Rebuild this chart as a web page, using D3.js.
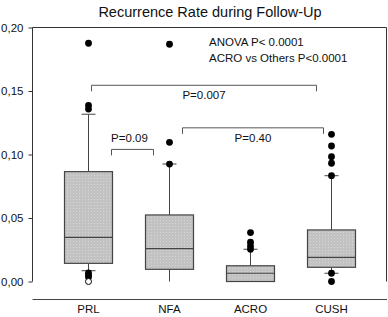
<!DOCTYPE html>
<html>
<head>
<meta charset="utf-8">
<script src="https://cdn.jsdelivr.net/npm/d3@7"></script>
<style>
  body { margin: 0; background: #fff; }
  text { font-family: "Liberation Sans", Arial, sans-serif; fill: #111; }
</style>
</head>
<body>
<div id="chart"></div>
<script>
// Recurrence rate box plots, SigmaPlot style

const groups = ['PRL', 'NFA', 'ACRO', 'CUSH'];
// [lowWhisker, q1, median, q3, highWhisker]
const boxStats = [
    [0.0085, 0.0143, 0.0348, 0.0865, 0.1317],
    [0.0, 0.0096, 0.0259, 0.0524, 0.0925],
    [0.0, 0.0, 0.0065, 0.0124, 0.0254],
    [0.0065, 0.0112, 0.019, 0.0406, 0.0833]
];
const lowCaps = [true, false, false, true];
const outliers = [
    [0.1876, 0.1386, 0.1358, 0.0067, 0.0051, 0.0035],
    [0.1868, 0.1096, 0.0925],
    [0.0385, 0.031, 0.028, 0.0254],
    [0.1159, 0.1067, 0.0983, 0.0931, 0.0833, 0.0065, 0.0]
];
const openPoints = [[0.0], [], [], []];

const yTicks = [0, 0.05, 0.10, 0.15, 0.20];
const yTickLabels = ['0,00', '0,05', '0,10', '0,15', '0,20'];

// comparison brackets: from group, to group, height, label
const brackets = [
    { from: 'PRL', to: 'CUSH', y: 0.1545, label: 'P=0.007' },
    { from: 'PRL', to: 'NFA', y: 0.104, label: 'P=0.09' },
    { from: 'NFA', to: 'CUSH', y: 0.121, label: 'P=0.40' }
];
const statNotes = ['ANOVA P< 0.0001', 'ACRO vs Others P<0.0001'];

const W = 388, H = 317;
const frame = { left: 32.5, right: 386.5, top: 27.5, bottom: 281.5 };

const svg = d3.select('#chart').append('svg')
    .attr('width', W)
    .attr('height', H);

// stippled grey fill for boxes
const pat = svg.append('defs').append('pattern')
    .attr('id', 'stipple')
    .attr('width', 3).attr('height', 3)
    .attr('patternUnits', 'userSpaceOnUse');
pat.append('rect').attr('width', 3).attr('height', 3).attr('fill', '#c2c2c2');
pat.append('rect').attr('x', 1).attr('y', 1).attr('width', 1).attr('height', 1).attr('fill', '#d6d6d6');

const x = d3.scaleBand()
    .domain(groups)
    .range([48, 372]);
const cx = g => x(g) + x.bandwidth() / 2;
const boxW = 48;
const capW = 14;

const y = d3.scaleLinear()
    .domain([0, 0.2])
    .range([frame.bottom, frame.top]);

// Title
svg.append('text')
    .attr('x', 210)
    .attr('y', 17)
    .attr('text-anchor', 'middle')
    .style('font-size', '14.5px')
    .text('Recurrence Rate during Follow-Up');

// Frame (top, left, right)
svg.append('path')
    .attr('d', `M${frame.left},${frame.bottom}V${frame.top}H${frame.right}V${frame.bottom}`)
    .attr('fill', 'none')
    .attr('stroke', '#333')
    .attr('stroke-width', 1);

// Detached bottom axis line
svg.append('line')
    .attr('x1', frame.left).attr('x2', 387)
    .attr('y1', 299.5).attr('y2', 299.5)
    .attr('stroke', '#444');

// Y axis
const yAxis = svg.append('g')
    .attr('transform', `translate(${frame.left},0)`)
    .call(d3.axisLeft(y).tickValues(yTicks).tickSize(4).tickPadding(5)
        .tickFormat((d, i) => yTickLabels[i]));
yAxis.select('.domain').remove();
yAxis.selectAll('.tick line').attr('stroke', '#333');
yAxis.selectAll('.tick text')
    .style('font-size', '11.5px')
    .style('font-family', '"Liberation Sans", Arial, sans-serif')
    .attr('fill', '#111');

// X labels
svg.selectAll('.xlab')
    .data(groups)
    .enter().append('text')
    .attr('class', 'xlab')
    .attr('x', d => cx(d))
    .attr('y', 312.5)
    .attr('text-anchor', 'middle')
    .style('font-size', '11.5px')
    .text(d => d);

// Boxes
const boxes = svg.selectAll('.box')
    .data(groups.map((g, i) => ({ g, s: boxStats[i], lowCap: lowCaps[i] })))
    .enter().append('g')
    .attr('class', 'box');

// whiskers
boxes.append('line')
    .attr('x1', d => cx(d.g)).attr('x2', d => cx(d.g))
    .attr('y1', d => y(d.s[3])).attr('y2', d => y(d.s[4]))
    .attr('stroke', '#444');
boxes.append('line')
    .attr('x1', d => cx(d.g)).attr('x2', d => cx(d.g))
    .attr('y1', d => y(d.s[1])).attr('y2', d => y(d.s[0]))
    .attr('stroke', '#444');
boxes.append('line')
    .attr('x1', d => cx(d.g) - capW / 2).attr('x2', d => cx(d.g) + capW / 2)
    .attr('y1', d => y(d.s[4])).attr('y2', d => y(d.s[4]))
    .attr('stroke', '#444');
boxes.filter(d => d.lowCap).append('line')
    .attr('x1', d => cx(d.g) - capW / 2).attr('x2', d => cx(d.g) + capW / 2)
    .attr('y1', d => y(d.s[0])).attr('y2', d => y(d.s[0]))
    .attr('stroke', '#444');

boxes.append('rect')
    .attr('x', d => cx(d.g) - boxW / 2)
    .attr('width', boxW)
    .attr('y', d => y(d.s[3]))
    .attr('height', d => y(d.s[1]) - y(d.s[3]))
    .attr('fill', 'url(#stipple)')
    .attr('stroke', '#444')
    .attr('stroke-width', 1.2);
boxes.append('line')
    .attr('x1', d => cx(d.g) - boxW / 2).attr('x2', d => cx(d.g) + boxW / 2)
    .attr('y1', d => y(d.s[2])).attr('y2', d => y(d.s[2]))
    .attr('stroke', '#444')
    .attr('stroke-width', 1.2);

// Outliers
const outPts = [];
groups.forEach((g, i) => outliers[i].forEach(v => outPts.push({ g, v })));
svg.selectAll('.out')
    .data(outPts)
    .enter().append('circle')
    .attr('class', 'out')
    .attr('cx', d => cx(d.g))
    .attr('cy', d => y(d.v))
    .attr('r', 3.4)
    .attr('fill', '#000');

const openPts = [];
groups.forEach((g, i) => openPoints[i].forEach(v => openPts.push({ g, v })));
svg.selectAll('.open')
    .data(openPts)
    .enter().append('circle')
    .attr('class', 'open')
    .attr('cx', d => cx(d.g))
    .attr('cy', d => y(d.v))
    .attr('r', 3)
    .attr('fill', '#fff')
    .attr('stroke', '#000')
    .attr('stroke-width', 1);

// Brackets
const bracketEnds = { 'PRL-CUSH': [3, -15], 'PRL-NFA': [23, -16], 'NFA-CUSH': [13, -8] };
brackets.forEach(b => {
    const off = bracketEnds[`${b.from}-${b.to}`];
    const x1 = cx(b.from) + off[0];
    const x2 = cx(b.to) + off[1];
    const yy = y(b.y);
    svg.append('path')
        .attr('d', `M${x1},${yy + 6}V${yy}H${x2}V${yy + 6}`)
        .attr('fill', 'none')
        .attr('stroke', '#555')
        .attr('stroke-width', 1);
    svg.append('text')
        .attr('x', (x1 + x2) / 2 + (b.from === 'PRL' && b.to === 'NFA' ? -3 : 0))
        .attr('y', yy + (b.to === 'NFA' ? -7 : 14))
        .attr('text-anchor', 'middle')
        .style('font-size', '11.5px')
        .text(b.label);
});

// Stats notes
svg.selectAll('.note')
    .data(statNotes)
    .enter().append('text')
    .attr('class', 'note')
    .attr('x', 209)
    .attr('y', (d, i) => 46 + i * 16)
    .style('font-size', '11.5px')
    .text(d => d);
</script>
</body>
</html>
